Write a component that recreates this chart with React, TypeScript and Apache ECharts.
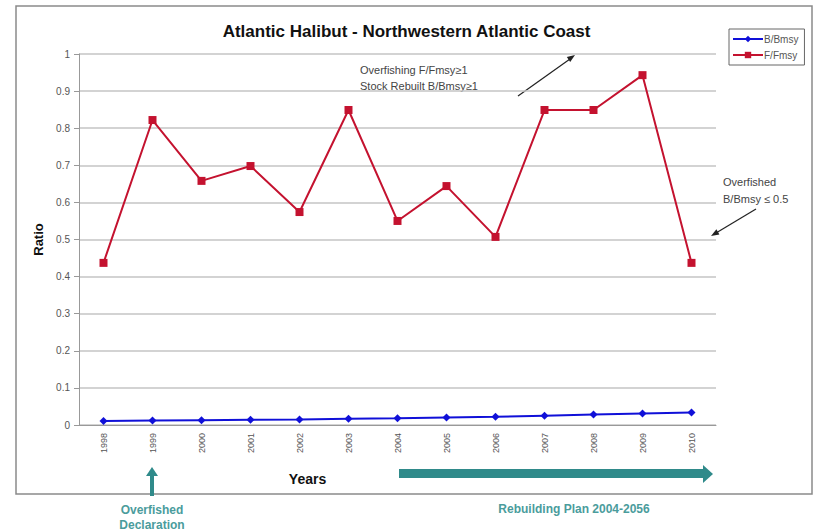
import React, { useEffect, useRef } from "react";
import * as echarts from "echarts";

const years = ["1998", "1999", "2000", "2001", "2002", "2003", "2004", "2005", "2006", "2007", "2008", "2009", "2010"];
const bBmsy = [0.011, 0.012, 0.013, 0.014, 0.015, 0.017, 0.018, 0.02, 0.022, 0.025, 0.028, 0.031, 0.034];
const fFmsy = [0.437, 0.822, 0.658, 0.698, 0.574, 0.849, 0.55, 0.644, 0.507, 0.849, 0.849, 0.943, 0.437];
const yTicks = { min: 0, max: 1, interval: 0.1 };

const TEAL = "#2f8a8a";
const FONT = "Liberation Sans, Arial, sans-serif";

export default function App() {
  const ref = useRef<HTMLDivElement>(null);
  useEffect(() => {
    document.body.style.margin = "0";
    const chart = echarts.init(ref.current!, null, { renderer: "svg" });
    chart.setOption({
      animation: false,
      backgroundColor: "#ffffff",
      textStyle: { fontFamily: FONT },
      title: {
        text: "Atlantic Halibut - Northwestern Atlantic Coast",
        left: "center",
        top: 18,
        textStyle: { fontSize: 17, fontWeight: "bold", color: "#111", fontFamily: FONT },
      },
      legend: {
        orient: "vertical",
        left: 729,
        top: 29,
        itemWidth: 30,
        itemHeight: 8,
        itemGap: 6,
        padding: [5, 6, 5, 3],
        borderColor: "#666",
        borderWidth: 1,
        textStyle: { fontSize: 10, color: "#555", padding: [0, 0, 0, -4] },
        data: ["B/Bmsy", "F/Fmsy"],
      },
      grid: { left: 79, right: 97, top: 54, bottom: 107, containLabel: false },
      xAxis: {
        type: "category",
        data: years,
        boundaryGap: true,
        axisLine: { show: true, lineStyle: { color: "#999", width: 1 } },
        axisTick: { show: false },
        axisLabel: { rotate: 90, fontSize: 9, color: "#555", margin: 8, interval: 0 },
        name: "Years",
        nameLocation: "middle",
        nameGap: 47,
        nameTextStyle: { fontSize: 14, fontWeight: "bold", color: "#111", padding: [0, 0, 0, -180] },
      },
      yAxis: {
        type: "value",
        min: yTicks.min,
        max: yTicks.max,
        interval: yTicks.interval,
        axisLine: { show: true, lineStyle: { color: "#999", width: 1 } },
        axisTick: { show: true, length: 5, lineStyle: { color: "#999" } },
        axisLabel: { fontSize: 10, color: "#555", margin: 9 },
        splitLine: { show: true, lineStyle: { color: "#c4c4c4", width: 1.5 } },
        name: "Ratio",
        nameLocation: "middle",
        nameGap: 33,
        nameRotate: 90,
        nameTextStyle: { fontSize: 13, fontWeight: "bold", color: "#111" },
      },
      series: [
        {
          name: "B/Bmsy",
          type: "line",
          data: bBmsy,
          symbol: "diamond",
          symbolSize: 8,
          lineStyle: { color: "#1010d8", width: 2 },
          itemStyle: { color: "#1010d8" },
        },
        {
          name: "F/Fmsy",
          type: "line",
          data: fFmsy,
          symbol: "rect",
          symbolSize: 8,
          lineStyle: { color: "#c4122f", width: 2 },
          itemStyle: { color: "#c4122f" },
        },
      ],
      graphic: [
        {
          type: "rect",
          shape: { x: 16, y: 6, width: 796, height: 488 },
          style: { fill: "none", stroke: "#8a8a8a", lineWidth: 1.5 },
          silent: true,
        },
        {
          type: "text",
          x: 360,
          y: 62,
          style: {
            text: "Overfishing F/Fmsy\u22651\nStock Rebuilt B/Bmsy\u22651",
            fontSize: 11,
            lineHeight: 16,
            fill: "#444",
            fontFamily: FONT,
          },
        },
        { type: "line", shape: { x1: 518, y1: 96, x2: 570, y2: 59 }, style: { stroke: "#222", lineWidth: 1.2 } },
        { type: "polygon", shape: { points: [[575, 55], [566.8, 57.1], [570.2, 62.1]] }, style: { fill: "#222" } },
        {
          type: "text",
          x: 723,
          y: 173,
          style: {
            text: "Overfished\nB/Bmsy \u2264 0.5",
            fontSize: 11,
            lineHeight: 17,
            fill: "#444",
            fontFamily: FONT,
          },
        },
        { type: "line", shape: { x1: 756, y1: 209, x2: 716, y2: 233 }, style: { stroke: "#222", lineWidth: 1.2 } },
        { type: "polygon", shape: { points: [[711, 236], [719.4, 234.5], [716.4, 229.3]] }, style: { fill: "#222" } },
        // Overfished declaration arrow (up)
        { type: "rect", shape: { x: 150, y: 475, width: 4, height: 21 }, style: { fill: TEAL } },
        { type: "polygon", shape: { points: [[146, 476], [158, 476], [152, 467]] }, style: { fill: TEAL } },
        {
          type: "text",
          x: 152,
          y: 502,
          style: {
            text: "Overfished\nDeclaration",
            fontSize: 12,
            lineHeight: 15,
            fontWeight: "bold",
            fill: "#4a9c9c",
            align: "center",
            fontFamily: FONT,
          },
        },
        // Rebuilding plan arrow
        { type: "rect", shape: { x: 399, y: 469, width: 305, height: 9 }, style: { fill: TEAL } },
        { type: "polygon", shape: { points: [[703, 465], [703, 483], [713, 474]] }, style: { fill: TEAL } },
        {
          type: "text",
          x: 574,
          y: 503,
          style: {
            text: "Rebuilding Plan 2004-2056",
            fontSize: 12,
            fontWeight: "bold",
            fill: "#4a9c9c",
            align: "center",
            fontFamily: FONT,
          },
        },
      ],
    });
    return () => chart.dispose();
  }, []);
  return <div ref={ref} style={{ width: 813, height: 532 }} />;
}
